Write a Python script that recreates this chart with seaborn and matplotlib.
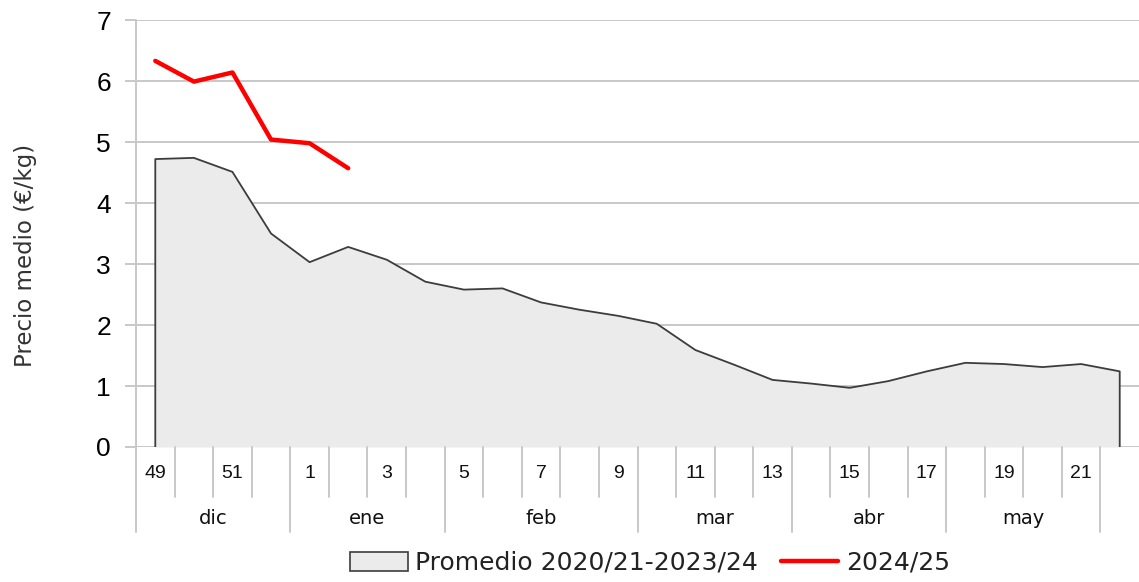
import matplotlib
matplotlib.use("Agg")

import pandas as pd
import seaborn as sns
from matplotlib import pyplot as plt
from matplotlib.lines import Line2D
from matplotlib.patches import Patch

# weekly average prices (EUR/kg)
weeks = [49, 50, 51, 52, 1, 2, 3, 4, 5, 6, 7, 8, 9, 10, 11, 12, 13,
         14, 15, 16, 17, 18, 19, 20, 21, 22]
promedio = [4.72, 4.74, 4.51, 3.50, 3.03, 3.28, 3.07, 2.71, 2.58, 2.60, 2.37,
            2.25, 2.15, 2.02, 1.59, 1.35, 1.10, 1.04, 0.97, 1.08, 1.24, 1.38,
            1.36, 1.31, 1.36, 1.24]
campaign_2425 = [6.33, 5.99, 6.14, 5.04, 4.98, 4.57]
months = ["dic", "ene", "feb", "mar", "abr", "may"]
weeks_per_month = [4, 4, 5, 4, 4, 4]

GRID = "#c8c8c8"
FILL = "#ebebeb"
EDGE = "#3c3c3c"

sns.set_style("white")
plt.rcParams["font.family"] = ["DejaVu Sans"]

pos = list(range(len(weeks)))
df_avg = pd.DataFrame({"pos": pos, "price": promedio})
df_cur = pd.DataFrame({"pos": pos[:len(campaign_2425)], "price": campaign_2425})
df_outline = pd.DataFrame({"pos": [pos[0]] + pos + [pos[-1]],
                           "price": [0] + promedio + [0]})

fig = plt.figure(figsize=(11.39, 5.82), dpi=100)
ax_h_px = 447 - 20
ax = fig.add_axes([136 / 1139, 1 - 447 / 582, 1 - 136 / 1139, ax_h_px / 582])

ax.fill_between(df_avg["pos"], df_avg["price"], color=FILL, lw=0, zorder=2)
sns.lineplot(data=df_outline, x="pos", y="price", estimator=None, sort=False,
             color=EDGE, lw=1.3, ax=ax, zorder=3)
sns.lineplot(data=df_cur, x="pos", y="price", color="#ff0000", lw=3.2, ax=ax,
             zorder=4)

ax.set_xlim(-0.5, len(weeks) - 0.5)
ax.set_ylim(0, 7)
ax.set_yticks(range(0, 8))
ax.yaxis.grid(True, color=GRID, lw=1.4)
ax.set_axisbelow(True)
for side in ax.spines.values():
    side.set_visible(False)
ax.tick_params(axis="y", length=8, color=GRID, width=1.4, pad=10, labelsize=19,
               labelcolor="#000000", left=True)
for lbl in ax.get_yticklabels():
    lbl.set_fontfamily("Liberation Sans")
ax.set_xticks([])
ax.set_xlabel("")
ax.set_ylabel("Precio medio (€/kg)", fontsize=16.5, color="#333333")
ax.yaxis.set_label_coords(-99 / 1003, (447 - 255) / ax_h_px)

# two-level category axis: weeks and months
tr = ax.get_xaxis_transform()


def below(px):
    return -px / ax_h_px


ax.plot([-0.5, -0.5], [1, below(85)], color=GRID, lw=1.4, transform=tr,
        clip_on=False)
bounds = [-0.5]
for n in weeks_per_month:
    bounds.append(bounds[-1] + n)
for i in range(len(weeks) - 1):
    b = i - 0.5
    if b == -0.5:
        continue
    depth = 85 if b in bounds else 50
    ax.plot([b, b], [0, below(depth)], color=GRID, lw=1.4, transform=tr,
            clip_on=False)
ax.plot([bounds[-1], bounds[-1]], [0, below(85)], color=GRID, lw=1.4,
        transform=tr, clip_on=False)

for i, w in enumerate(weeks):
    if i % 2 == 0:
        ax.text(i, below(26), str(w), transform=tr, ha="center", va="center",
                fontsize=14, family="Liberation Sans", color="#111111")
for m, lo, hi in zip(months, bounds[:-1], bounds[1:]):
    ax.text((lo + hi) / 2, below(71), m, transform=tr, ha="center",
            va="center", fontsize=14, color="#111111")

handles = [Patch(facecolor=FILL, edgecolor=EDGE, lw=1.2),
           Line2D([0], [0], color="#ff0000", lw=3.2)]
fig.legend(handles, ["Promedio 2020/21-2023/24", "2024/25"], loc="center",
           bbox_to_anchor=(650 / 1139, 1 - 563 / 582), ncol=2, frameon=False,
           fontsize=18, handlelength=2.3, handleheight=0.8, handletextpad=0.3,
           columnspacing=0.9, labelcolor="#222222")

fig.savefig("out.png", dpi=100)
